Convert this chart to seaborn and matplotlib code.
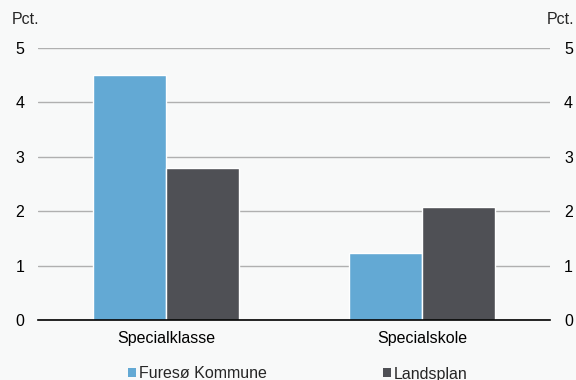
import matplotlib
matplotlib.use("Agg")
import matplotlib.pyplot as plt
import seaborn as sns
import pandas as pd
from matplotlib.ticker import FixedLocator
from matplotlib.patches import Patch

categories = ["Specialklasse", "Specialskole"]
series_names = ["Furesø Kommune", "Landsplan"]
furesoe = [4.5, 1.23]
landsplan = [2.8, 2.08]
yticks = [0, 1, 2, 3, 4, 5]
unit_label = "Pct."

colors = ["#63a9d4", "#4f5055"]
bg = "#f8f9f9"
fs = 11.5

df = pd.DataFrame({
    "cat": categories * 2,
    "serie": [series_names[0]] * 2 + [series_names[1]] * 2,
    "val": furesoe + landsplan,
})

sns.set_theme(style="white")
plt.rcParams["font.family"] = ["Liberation Sans", "DejaVu Sans"]

fig = plt.figure(figsize=(5.76, 3.8), dpi=100, facecolor=bg)
ax = fig.add_axes([0.066, 0.158, 0.889, 0.716], facecolor=bg)

sns.barplot(data=df, x="cat", y="val", hue="serie", palette=colors,
            width=0.57, ax=ax, legend=False, saturation=1, zorder=3)

ax.set_xlim(-0.5, 1.5)
ax.set_ylim(0, 5)
ax.set_yticks(yticks)
ax.grid(axis="y", color="#b0b0b0", linewidth=1, zorder=0)
ax.set_xlabel("")
ax.set_ylabel("")
for s in ["top", "left", "right"]:
    ax.spines[s].set_visible(False)
ax.spines["bottom"].set_color("black")
ax.spines["bottom"].set_linewidth(1.2)
ax.spines["bottom"].set_zorder(4)

ax.tick_params(axis="y", length=0, labelsize=fs, colors="black",
               labelleft=True, labelright=True, pad=10)
ax.tick_params(axis="x", which="major", length=0, labelsize=fs, colors="black", pad=8)
ax.xaxis.set_minor_locator(FixedLocator([-0.5, 0.5, 1.5]))
ax.tick_params(axis="x", which="minor", length=5, width=1.2, color="black", direction="out")

fig.text(12 / 576, 1 - 20 / 380, unit_label, fontsize=fs, va="center", ha="left")
fig.text(574 / 576, 1 - 20 / 380, unit_label, fontsize=fs, va="center", ha="right")

handles = [Patch(facecolor=c, edgecolor="none") for c in colors]
fig.legend(handles, series_names, loc="center", bbox_to_anchor=(0.517, 1 - 374 / 380),
           ncol=2, frameon=False, fontsize=fs, handlelength=0.5, handleheight=0.5,
           handletextpad=0.2, columnspacing=7.25, borderpad=0)

fig.savefig("out.png", dpi=100, facecolor=bg)
